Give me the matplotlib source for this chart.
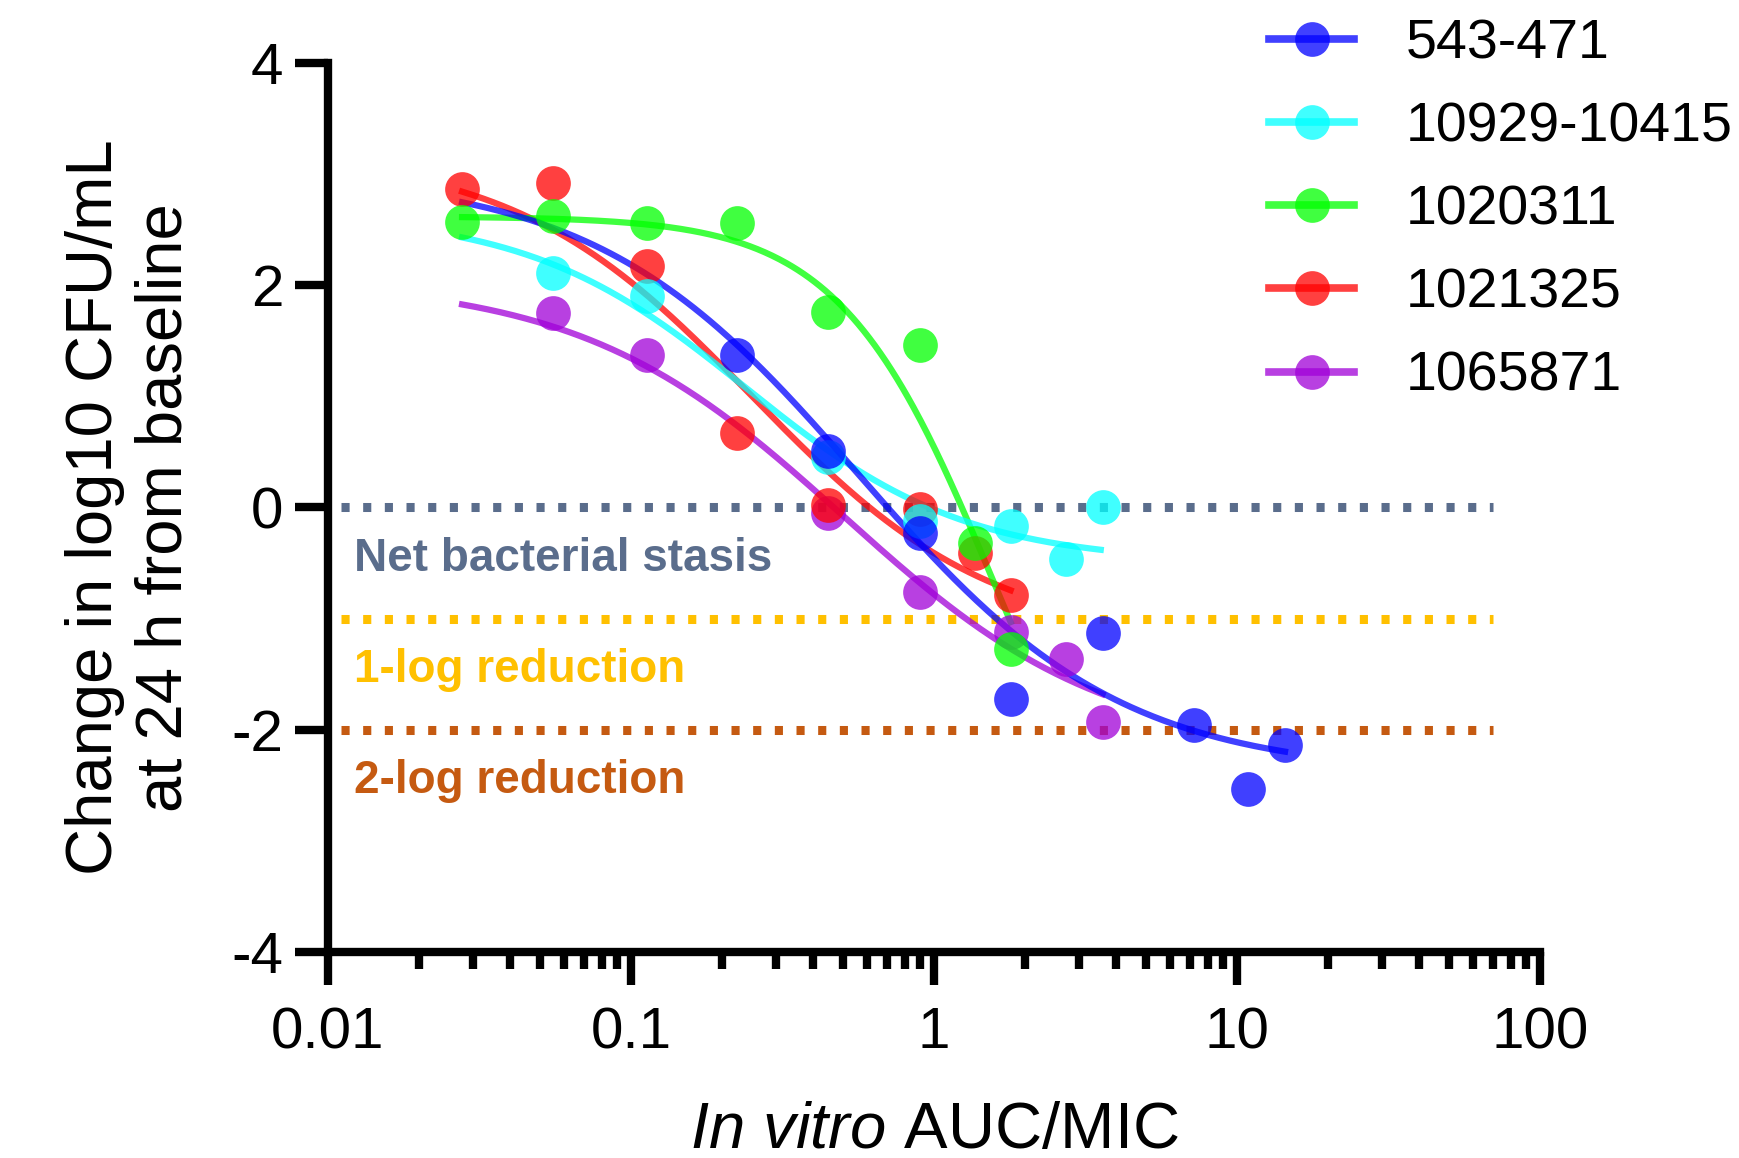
import numpy as np
import matplotlib
matplotlib.use("Agg")
import matplotlib.pyplot as plt
from matplotlib.lines import Line2D

plt.rcParams["font.family"] = ["Liberation Sans", "DejaVu Sans"]
plt.rcParams["axes.unicode_minus"] = False
plt.rcParams["mathtext.fontset"] = "custom"
plt.rcParams["mathtext.rm"] = "Liberation Sans"
plt.rcParams["mathtext.it"] = "Liberation Sans:italic"

# isolates, in legend order
names = ["543-471", "10929-10415", "1020311", "1021325", "1065871"]
colors = ["#0000ff", "#00ffff", "#00ff00", "#ff0000", "#a000d8"]

# measured points (AUC/MIC, change in log10 CFU/mL)
x_543 = [0.224, 0.447, 0.90, 1.79, 3.6, 7.2, 10.9, 14.4]
y_543 = [1.37, 0.51, -0.23, -1.72, -1.13, -1.96, -2.53, -2.14]
x_10929 = [0.0553, 0.1127, 0.447, 0.90, 1.79, 2.73, 3.6]
y_10929 = [2.11, 1.90, 0.45, -0.12, -0.17, -0.46, 0.0]
x_1020311 = [0.0277, 0.0553, 0.1127, 0.224, 0.447, 0.90, 1.37, 1.79]
y_1020311 = [2.57, 2.62, 2.56, 2.56, 1.76, 1.46, -0.32, -1.27]
x_1021325 = [0.0277, 0.0553, 0.1127, 0.224, 0.447, 0.90, 1.37, 1.79]
y_1021325 = [2.87, 2.92, 2.17, 0.67, 0.02, -0.01, -0.41, -0.79]
x_1065871 = [0.0553, 0.1127, 0.447, 0.90, 1.79, 2.73, 3.6]
y_1065871 = [1.75, 1.37, -0.05, -0.76, -1.12, -1.36, -1.93]

# sigmoid Emax fit per isolate (top, bottom, logEC50, hill) and fitted range
fit_top = [3.0, 2.65, 2.62, 3.2, 2.05]
fit_bottom = [-2.4, -0.5, -4.0, -1.2, -2.2]
fit_logec50 = [-0.25, -0.62, 0.2, -0.6, -0.3]
fit_hill = [1.0, 1.2, 1.7, 1.1, 1.0]
fit_start = [0.0277, 0.0277, 0.0277, 0.0277, 0.0277]
fit_end = [14.4, 3.55, 1.79, 1.79, 3.6]

xs = [x_543, x_10929, x_1020311, x_1021325, x_1065871]
ys = [y_543, y_10929, y_1020311, y_1021325, y_1065871]

# reference lines
ref_levels = [0, -1, -2]
ref_labels = ["Net bacterial stasis", "1-log reduction", "2-log reduction"]
ref_colors = ["#5a6d8c", "#ffc000", "#c55a11"]

fig = plt.figure(figsize=(17.39, 11.58), dpi=100)
ax = fig.add_axes([0.1886, 0.1779, 0.697, 0.7677])

for lvl, lab, c in zip(ref_levels, ref_labels, ref_colors):
    ax.plot([0.011, 70], [lvl, lvl], color=c, lw=6.5, dashes=(0.9, 1.5),
            dash_capstyle="butt", zorder=1)
    ax.text(0.0122, lvl - 0.57, lab, color=c, fontsize=33, fontweight="bold",
            va="baseline", ha="left")

def emax(x, top, bottom, logec, hill):
    return bottom + (top - bottom) / (1 + 10 ** ((np.log10(x) - logec) * hill))

draw_order = [4, 3, 2, 1, 0]
for i in draw_order:
    xc = np.geomspace(fit_start[i], fit_end[i], 300)
    yc = emax(xc, fit_top[i], fit_bottom[i], fit_logec50[i], fit_hill[i])
    ax.plot(xc, yc, color=colors[i], lw=4.5, alpha=0.75, zorder=2)
for i in draw_order:
    ax.plot(xs[i], ys[i], "o", color=colors[i], ms=25, mew=0, alpha=0.75, zorder=3)

ax.set_xscale("log")
ax.set_xlim(0.01, 100)
ax.set_ylim(-4, 4)
ax.set_xticks([0.01, 0.1, 1, 10, 100])
ax.set_xticklabels(["0.01", "0.1", "1", "10", "100"])
ax.set_yticks([-4, -2, 0, 2, 4])
ax.set_yticklabels(["-4", "-2", "0", "2", "4"])

for s in ["top", "right"]:
    ax.spines[s].set_visible(False)
for s in ["left", "bottom"]:
    ax.spines[s].set_linewidth(6)
ax.tick_params(axis="both", which="major", direction="out", length=24, width=6,
               labelsize=42, color="black")
ax.tick_params(axis="x", which="major", pad=15)
ax.tick_params(axis="y", which="major", pad=8)
ax.tick_params(axis="x", which="minor", direction="out", length=12, width=6)

ax.set_xlabel(r"$\it{In\ vitro}$ AUC/MIC", fontsize=47)
ax.xaxis.set_label_coords(0.5, -0.168)
ax.set_ylabel("Change in log10 CFU/mL\nat 24 h from baseline", fontsize=47,
              linespacing=1.2)
ax.yaxis.set_label_coords(-0.11, 0.5)

handles = [Line2D([], [], color=colors[i], lw=5.5, marker="o", ms=25, mew=0,
                  alpha=0.75) for i in range(5)]
fig.legend(handles, names, loc="upper left", bbox_to_anchor=(0.730, 0.984),
           frameon=False, fontsize=40, handlelength=1.53, handletextpad=0.92,
           labelspacing=0.56, borderpad=0, borderaxespad=0)

fig.savefig("out.png", dpi=100)
